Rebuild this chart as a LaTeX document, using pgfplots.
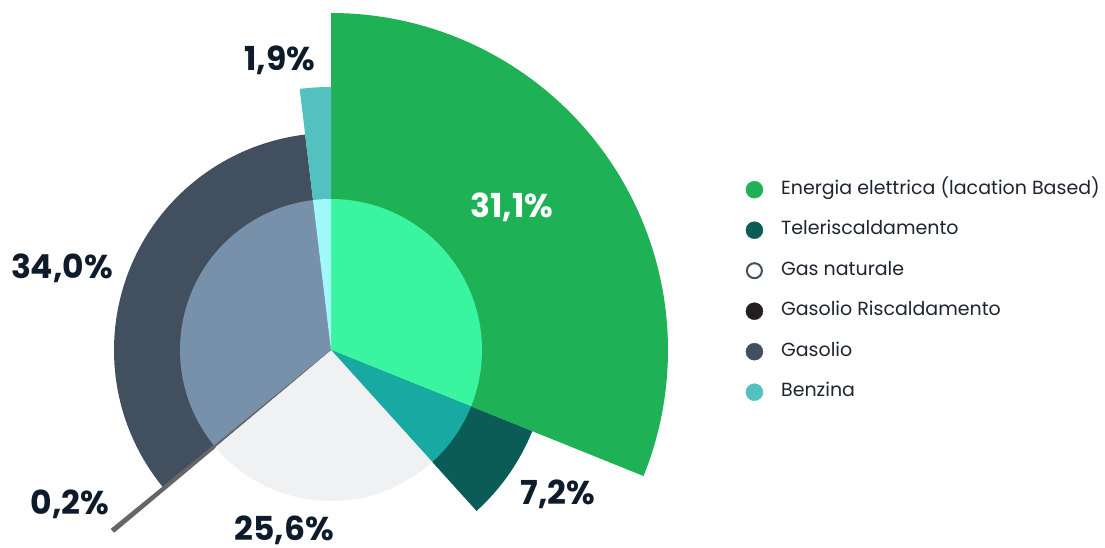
\documentclass[border=0pt]{standalone}
\usepackage{pgfplots}
\pgfplotsset{compat=1.18}
\usepackage{fontspec}
\setmainfont{Poppins}
\definecolor{eOut}{HTML}{1FB155}
\definecolor{eIn}{HTML}{3AF5A0}
\definecolor{tOut}{HTML}{0B5C56}
\definecolor{tIn}{HTML}{17A9A2}
\definecolor{gIn}{HTML}{F0F1F3}
\definecolor{grOut}{HTML}{666666}
\definecolor{grLeg}{HTML}{231F20}
\definecolor{goOut}{HTML}{414F5E}
\definecolor{goIn}{HTML}{7891AB}
\definecolor{bOut}{HTML}{52C1BF}
\definecolor{bIn}{HTML}{A0F8F8}
\definecolor{lab}{HTML}{0D1B2A}
\definecolor{legtxt}{HTML}{1E2430}
% percentages: 31.1, 7.2, 25.6, 0.2, 34.0, 1.9  -> angles (clockwise from 90)
\def\cx{331}\def\cy{197}
\newcommand{\sector}[4]{% color, start angle, end angle, radius
  \fill[#1] (axis cs:\cx,\cy) -- ++(#2:#4pt) arc[start angle=#2, end angle=#3, radius=#4pt] -- cycle;}
\pgfplotsset{
  dot/.style={legend image code/.code={\fill[#1] (8.5pt,0pt) circle (8.5pt);}},
  ring/.style={legend image code/.code={\draw[#1, fill=white, line width=2pt] (8.5pt,0pt) circle (7.5pt);}},
}
\tikzset{lbl/.style={font=\fontsize{33}{33}\selectfont\bfseries, inner sep=0pt}}
\begin{document}
\begin{tikzpicture}
\begin{axis}[
  x=1pt, y=1pt, xmin=0, xmax=1105, ymin=0, ymax=547,
  hide axis, clip=false, scale only axis,
  legend cell align=left,
  legend style={draw=none, fill=none, at={(axis cs:742.5,370)}, anchor=north west,
    font=\fontsize{19}{20}\selectfont\color{legtxt},
    nodes={text height=14pt, text depth=5pt, inner sep=1pt},
    /tikz/every odd column/.append style={column sep=17pt},
    row sep=19.5pt},
]
% outer sectors
\sector{eOut}{90}{-21.96}{337}
\sector{tOut}{-21.96}{-47.88}{217}
\sector{goOut}{-140.76}{-263.16}{217}
\sector{bOut}{-263.16}{-270}{263}
\sector{grOut, draw=grOut, line width=1.6pt, line join=round}{-140.04}{-140.76}{283}
% inner pie
\sector{eIn}{90}{-21.96}{151}
\sector{tIn}{-21.96}{-47.88}{151}
\sector{gIn}{-47.88}{-140.04}{151}
\sector{goIn}{-140.76}{-263.16}{151}
\sector{bIn}{-263.16}{-270}{151}
\sector{grOut}{-140.04}{-140.76}{151}
% labels
\node[lbl, text=white] at (axis cs:512,340) {31,1\%};
\node[lbl, text=lab] at (axis cs:558,53) {7,2\%};
\node[lbl, text=lab] at (axis cs:284,17) {25,6\%};
\node[lbl, text=lab] at (axis cs:70,43) {0,2\%};
\node[lbl, text=lab] at (axis cs:62,279) {34,0\%};
\node[lbl, text=lab] at (axis cs:280,487) {1,9\%};
% legend
\addlegendimage{dot=eOut}
\addlegendentry{Energia elettrica (lacation Based)}
\addlegendimage{dot=tOut}
\addlegendentry{Teleriscaldamento}
\addlegendimage{ring=goOut}
\addlegendentry{Gas naturale}
\addlegendimage{dot=grLeg}
\addlegendentry{Gasolio Riscaldamento}
\addlegendimage{dot=goOut}
\addlegendentry{Gasolio}
\addlegendimage{dot=bOut}
\addlegendentry{Benzina}
\end{axis}
\pgfresetboundingbox
\path (0,0) rectangle (1105pt,547pt);
\end{tikzpicture}
\end{document}
